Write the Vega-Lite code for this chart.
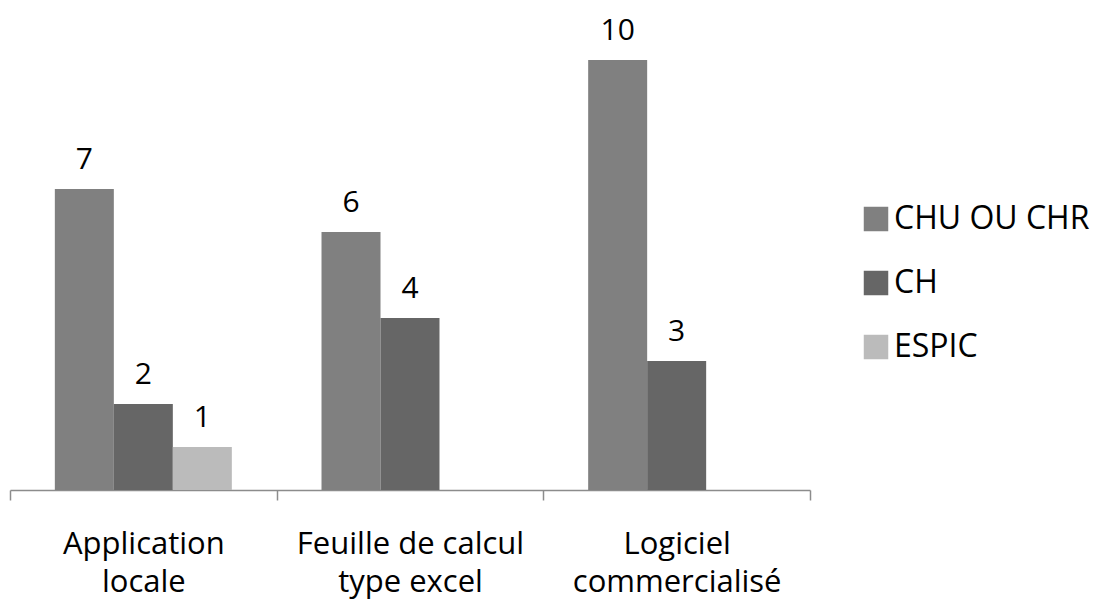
{
  "$schema": "https://vega.github.io/schema/vega-lite/v6.json",
  "width": 800,
  "height": 490,
  "autosize": {"type": "none"},
  "padding": {"left": 10, "top": 0, "right": 293, "bottom": 115},
  "background": "white",
  "config": {"view": {"stroke": null}, "font": "Open Sans"},
  "data": {
    "values": [
      {"cat": "Application locale", "grp": "CHU OU CHR", "v": 7},
      {"cat": "Application locale", "grp": "CH", "v": 2},
      {"cat": "Application locale", "grp": "ESPIC", "v": 1},
      {"cat": "Feuille de calcul type excel", "grp": "CHU OU CHR", "v": 6},
      {"cat": "Feuille de calcul type excel", "grp": "CH", "v": 4},
      {"cat": "Logiciel commercialisé", "grp": "CHU OU CHR", "v": 10},
      {"cat": "Logiciel commercialisé", "grp": "CH", "v": 3}
    ]
  },
  "encoding": {
    "x": {
      "field": "cat", "type": "nominal", "sort": null, "title": null,
      "scale": {"paddingInner": 0, "paddingOuter": 0},
      "axis": {
        "domainColor": "#8c8c8c", "domainWidth": 1.5,
        "tickColor": "#8c8c8c", "tickWidth": 1.5, "tickSize": 10, "tickBand": "extent",
        "labelAngle": 0, "labelFontSize": 31, "labelColor": "#000000",
        "labelPadding": 29, "labelLineHeight": 38, "labelBaseline": "top",
        "labelLimit": 400,
        "labelExpr": "{'Application locale':['Application','locale'],'Feuille de calcul type excel':['Feuille de calcul','type excel'],'Logiciel commercialisé':['Logiciel','commercialisé']}[datum.label]"
      }
    },
    "xOffset": {
      "field": "grp", "type": "nominal", "sort": ["CHU OU CHR", "CH", "ESPIC"],
      "scale": {"domain": ["CHU OU CHR", "CH", "ESPIC"], "paddingInner": 0, "paddingOuter": 0.76}
    },
    "y": {
      "field": "v", "type": "quantitative",
      "scale": {"domain": [0, 11.395], "nice": false, "zero": true},
      "axis": null
    }
  },
  "layer": [
    {
      "mark": {"type": "bar"},
      "encoding": {
        "color": {
          "field": "grp", "type": "nominal",
          "scale": {"domain": ["CHU OU CHR", "CH", "ESPIC"], "range": ["#808080", "#666666", "#bbbbbb"]},
          "legend": {
            "title": null, "orient": "none", "legendX": 850, "legendY": 203,
            "symbolType": "square", "symbolSize": 600, "symbolStrokeWidth": 0,
            "symbolOpacity": 1,
            "labelFontSize": 32, "labelColor": "#000000", "labelOffset": 2,
            "rowPadding": 32, "labelLimit": 300
          }
        }
      }
    },
    {
      "mark": {"type": "text", "baseline": "bottom", "dy": -14, "fontSize": 30, "color": "#000000"},
      "encoding": {"text": {"field": "v", "type": "quantitative"}}
    }
  ]
}
